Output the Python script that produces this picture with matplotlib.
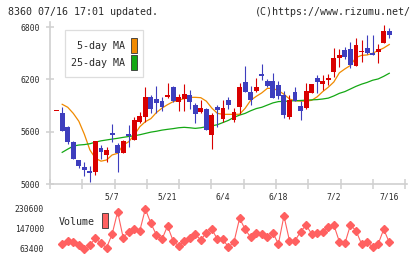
import numpy as np
import matplotlib
matplotlib.use('Agg')
import matplotlib.pyplot as plt
from matplotlib.patches import Rectangle
from matplotlib import transforms

# daily candles (index 0 = first visible day)
opens = [5835, 5818, 5657, 5485, 5275, 5199, 5153, 5141, 5416, 5336,
         5585, 5447, 5359, 5573, 5505, 5715, 5772, 5994, 5975, 5952,
         5994, 6116, 5939, 5975, 6021, 5906, 5826, 5860, 5562, 5887,
         5745, 5963, 5734, 5880, 6166, 6052, 6070, 6262, 6181, 6181,
         6135, 6021, 5765, 6055, 5895, 5868, 6040, 6220, 6147, 6193,
         6289, 6449, 6537, 6548, 6357, 6514, 6560, 6506, 6514, 6614, 6755]
highs = [5842, 5887, 5665, 5490, 5275, 5256, 5206, 5495, 5444, 5421,
         5688, 5474, 5500, 5680, 5772, 5829, 6109, 6021, 6128, 5994,
         6160, 6128, 6029, 6151, 6083, 5933, 5963, 5866, 5811, 5906,
         5963, 5994, 5868, 6162, 6353, 6128, 6216, 6376, 6200, 6275,
         6181, 6067, 6017, 6109, 5956, 6162, 6150, 6250, 6250, 6262,
         6563, 6544, 6575, 6626, 6675, 6652, 6709, 6709, 6606, 6824, 6786]
lows = [5835, 5605, 5459, 5290, 5185, 5095, 5026, 5103, 5287, 5249,
        5485, 5141, 5350, 5420, 5500, 5696, 5715, 5818, 5818, 5841,
        5990, 5946, 5837, 5837, 5860, 5703, 5811, 5615, 5405, 5657,
        5715, 5864, 5715, 5800, 6055, 5906, 6059, 6193, 6110, 5990,
        5970, 5761, 5749, 5950, 5730, 5860, 6040, 6048, 6078, 6135,
        6231, 6346, 6430, 6330, 6357, 6403, 6491, 6483, 6384, 6614, 6671]
closes = [5842, 5611, 5482, 5290, 5206, 5161, 5130, 5493, 5370, 5390,
          5565, 5359, 5493, 5554, 5734, 5783, 5994, 5860, 5933, 5887,
          6021, 5955, 5998, 6036, 5941, 5807, 5872, 5619, 5791, 5849,
          5872, 5906, 5826, 6113, 6059, 5963, 6109, 6242, 6124, 5992,
          6013, 5791, 5963, 5956, 5841, 6067, 6143, 6174, 6181, 6216,
          6449, 6479, 6460, 6365, 6594, 6530, 6499, 6483, 6548, 6755, 6713]

ma5 = [np.nan, 5914, 5880, 5810, 5720, 5570, 5390, 5295, 5262, 5275,
       5333, 5352, 5447, 5485, 5562, 5657, 5715, 5750, 5820, 5870,
       5910, 5944, 5960, 5980, 5994, 5994, 5990, 5950, 5870, 5810,
       5799, 5799, 5799, 5800, 5868, 5960, 6005, 6045, 6097, 6097,
       6070, 6030, 5975, 5955, 5950, 5950, 5960, 6000, 6060, 6110,
       6170, 6275, 6320, 6360, 6450, 6475, 6480, 6500, 6530, 6560, 6600]
ma25 = [np.nan, 5363, 5400, 5435, 5447, 5452, 5462, 5480, 5495, 5505,
        5515, 5524, 5535, 5545, 5553, 5565, 5580, 5595, 5605, 5618,
        5627, 5635, 5645, 5650, 5645, 5638, 5645, 5657, 5667, 5680,
        5705, 5730, 5765, 5790, 5810, 5840, 5865, 5880, 5905, 5930,
        5945, 5948, 5952, 5955, 5958, 5962, 5965, 5968, 5975, 5985,
        6010, 6040, 6060, 6090, 6120, 6145, 6165, 6190, 6205, 6235, 6270]

volume = [np.nan, 84300, 96800, 91400, 80100, 62000, 80100, 108100, 87200, 68800,
          124800, 219300, 110600, 135700, 145700, 140000, 230600, 170800, 121900, 104000,
          159500, 98100, 75900, 96800, 108100, 124800, 101000, 131500, 145700, 104000,
          104000, 70400, 94000, 191700, 145700, 112300, 131500, 126100, 112300, 131500,
          84300, 201300, 98100, 98100, 135700, 163700, 126100, 129000, 133200, 154100,
          163700, 94000, 87200, 163700, 140000, 84300, 94000, 70400, 84300, 145700, 91400]

date_idx = [10, 20, 30, 40, 50, 60]
date_labels = ['5/7', '5/21', '6/4', '6/18', '7/2', '7/16']
price_ticks = [5000, 5600, 6200, 6800]
vol_ticks = [63400, 147000, 230600]

UP = '#d90000'
DOWN = '#3e3ebe'
AXC = '#d0d0d0'
TXT = '#2a2a2a'
MONO = 'DejaVu Sans Mono'

W, H = 420, 259


def fx(px):
    return px / W


def fy(py):
    return 1 - py / H


fig = plt.figure(figsize=(W / 100, H / 100), dpi=100)
fig.patch.set_facecolor('white')

# ---- price panel
ax = fig.add_axes([fx(50), fy(184), fx(407) - fx(50), fy(22) - fy(184)])
x = np.arange(len(opens))
o = np.array(opens); c = np.array(closes)
hi = np.array(highs); lo = np.array(lows)
colors = np.where(c >= o, UP, DOWN)

ax.plot(x, ma5, color='#f08a00', lw=0.9, zorder=1)
ax.plot(x, ma25, color='#14a814', lw=0.9, zorder=1)
ax.vlines(x, lo, hi, colors=colors, lw=0.8, zorder=2)
body = np.maximum(np.abs(c - o), 14)
ax.bar(x, body, bottom=np.minimum(o, c), width=0.88, color=colors, zorder=3)

ax.set_xlim(-1.2, 63.2)
ax.set_ylim(5000, 6858)
for s in ['top', 'right']:
    ax.spines[s].set_visible(False)
for s in ['left', 'bottom']:
    ax.spines[s].set_color(AXC)
    ax.spines[s].set_linewidth(1.2)
ax.set_yticks(price_ticks)
ax.set_yticklabels([str(v) for v in price_ticks], fontsize=5.8, family=MONO, color=TXT)
ax.tick_params(axis='y', direction='inout', length=6, width=1.1, color=AXC, pad=4.5)
ax.set_xticks(np.linspace(-1.17, 62.85, 12))
ax.set_xticklabels([])
ax.tick_params(axis='x', direction='inout', length=6.5, width=1.1, color=AXC)

trans = transforms.blended_transform_factory(ax.transData, ax.transAxes)
for i, lab in zip(date_idx, date_labels):
    ax.text(i, -0.08, lab, transform=trans, ha='center', va='center',
            fontsize=5.8, family=MONO, color=TXT)

# legend box
fig.add_artist(Rectangle((fx(65), fy(77)), fx(143) - fx(65), fy(30) - fy(77),
                         transform=fig.transFigure, facecolor='white',
                         edgecolor='#dddddd', lw=0.9))
fig.text(fx(125), fy(46), '5-day MA', ha='right', va='center', fontsize=7.2, family=MONO, color=TXT)
fig.text(fx(125), fy(62.5), '25-day MA', ha='right', va='center', fontsize=7.2, family=MONO, color=TXT)
fig.add_artist(Rectangle((fx(131), fy(52.5)), fx(137) - fx(131), fy(37.5) - fy(52.5),
                         transform=fig.transFigure, facecolor='#f08a00', edgecolor='#333333', lw=0.6))
fig.add_artist(Rectangle((fx(131), fy(69.5)), fx(137) - fx(131), fy(54.5) - fy(69.5),
                         transform=fig.transFigure, facecolor='#14a814', edgecolor='#333333', lw=0.6))

# ---- volume panel
axv = fig.add_axes([fx(50), fy(256), fx(407) - fx(50), fy(200) - fy(256)])
axv.plot(x, volume, color='#ff6060', lw=0.8, marker='D', ms=4.3, mec='#ff6060', mfc='#ff6060')
axv.set_xlim(-1.2, 63.2)
axv.set_ylim(34140, 268220)
for s in axv.spines.values():
    s.set_visible(False)
axv.set_xticks([])
axv.set_yticks(vol_ticks)
axv.set_yticklabels([str(v) for v in vol_ticks], fontsize=5.8, family=MONO, color=TXT)
axv.tick_params(axis='y', length=0, pad=4.3)

fig.text(fx(59), fy(222), 'Volume', ha='left', va='center', fontsize=7.2, family=MONO, color=TXT)
fig.add_artist(Rectangle((fx(102), fy(228.3)), fx(107.7) - fx(102), fy(212.7) - fy(228.3),
                         transform=fig.transFigure, facecolor='#ff6060', edgecolor='#333333', lw=0.6))

# header
fig.text(fx(8), fy(12), '8360 07/16 17:01 updated.', ha='left', va='center',
         fontsize=7.2, family=MONO, color=TXT)
fig.text(fx(411), fy(12), '(C)https://www.rizumu.net/', ha='right', va='center',
         fontsize=7.2, family=MONO, color=TXT)

fig.savefig('out.png', dpi=100, facecolor='white')
